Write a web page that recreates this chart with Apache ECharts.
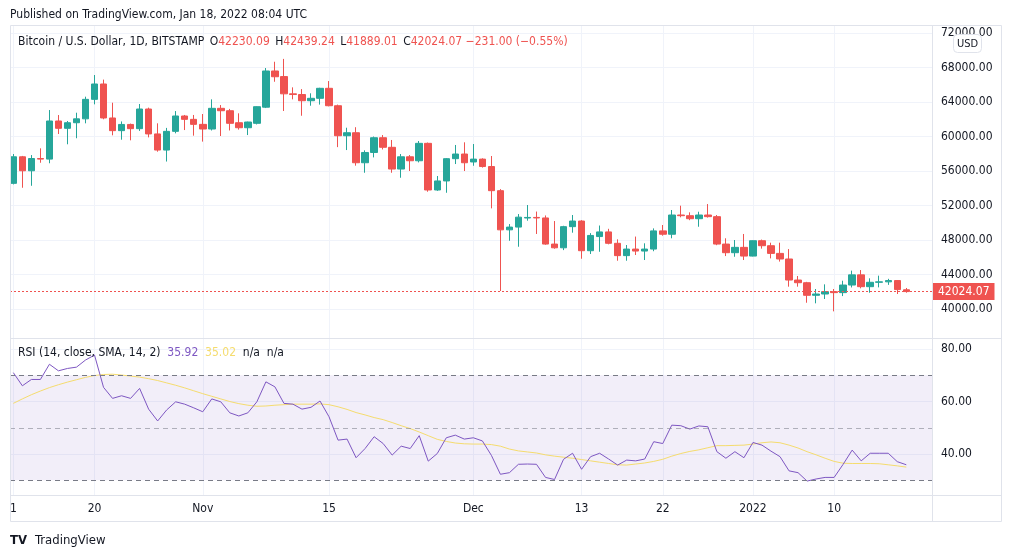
<!DOCTYPE html>
<html>
<head>
<meta charset="utf-8">
<script src="https://cdn.jsdelivr.net/npm/echarts@6/dist/echarts.min.js"></script>
<style>
  html, body { margin: 0; background: #fff; }
  #chart { width: 1012px; height: 558px; }
</style>
</head>
<body>
<div id="chart"></div>
<script>
// BTC/USD daily (Bitstamp), Oct 11 2021 – Jan 18 2022, with RSI(14) + SMA(14) of RSI.
// One entry per day, index 0 = Oct 11.
const opens = [
  54570, 57650, 56030, 57450, 57380, 61800, 60950, 61600, 62050, 64310,
  66090, 62150, 60680, 61400, 60910, 63190, 60300, 58430, 60600, 62380, 61990,
  61410, 60870, 63270, 62990, 61600, 61020, 61530, 63400, 67600, 66950,
  64950, 64870, 64150, 64430, 65590, 63570, 60090, 60440, 56960, 58150,
  59860, 58750, 56230, 57650, 57190, 59210, 53800, 54850, 57430, 57970,
  57050, 57380, 56520, 53720, 49180, 49500, 50550, 50620, 50560, 47530,
  47100, 49550, 50200, 46760, 48400, 48940, 47620, 46190, 46950, 46720,
  46950, 49060, 48670, 50900, 50820, 50470, 50900, 50710, 47530, 46530, 47150,
  46140, 47920, 47340, 46450, 45800, 43360, 43050, 41590, 41740, 42010,
  41900, 42780, 43960, 42590, 43100, 43150, 43300, 42230.09
];
const highs = [
  57970, 57750, 57850, 58630, 63070, 62490, 61800, 62760, 64620, 67130,
  66600, 63920, 61750, 61500, 63770, 63350, 61530, 61000, 62950, 62500, 62500,
  62610, 64310, 63650, 63200, 62690, 61720, 63500, 67940, 68670, 69000,
  65700, 65500, 65010, 65650, 66430, 63700, 61020, 61080, 58400, 60000,
  60170, 59600, 57970, 57850, 59480, 59300, 55420, 57500, 59020, 59330,
  59130, 57470, 57740, 53900, 49850, 51010, 52060, 51300, 50850, 50200,
  49650, 50900, 50300, 48800, 49680, 49300, 48080, 47420, 48400, 47620,
  49350, 49740, 51480, 51980, 51210, 51280, 52170, 50900, 48200, 48000, 48700,
  47950, 48050, 47690, 47690, 46950, 43830, 43150, 42320, 42860, 42320,
  43280, 44450, 44520, 43560, 43870, 43500, 43350, 42439.24
];
const lows = [
  54450, 54060, 54290, 56960, 56900, 60290, 59100, 59800, 61530, 63730,
  62000, 60140, 59630, 59560, 60650, 59900, 58240, 57100, 60370, 60750, 60100,
  59410, 60700, 60060, 60700, 60800, 60170, 61400, 63300, 66350, 62960,
  64310, 62410, 63570, 63700, 63500, 58770, 58430, 56620, 55800, 57580,
  58500, 55800, 55220, 56000, 57000, 53600, 53700, 53480, 56810, 56000,
  56610, 56400, 51670, 42090, 47910, 47220, 50240, 48700, 47450, 46990,
  46830, 48850, 45830, 46380, 46640, 47500, 45600, 45600, 46260, 45680,
  46700, 48500, 48200, 50630, 50300, 49540, 50600, 47400, 46140, 46060, 45680,
  46100, 47000, 45870, 45500, 42590, 42590, 40730, 40660, 41160, 39730,
  41500, 42500, 42400, 41890, 42510, 42800, 41740, 41889.01
];
const closes = [
  57650, 56030, 57450, 57380, 61800, 60950, 61600, 62050, 64310, 66090,
  62150, 60680, 61400, 60910, 63190, 60300, 58430, 60600, 62380, 61990, 61410,
  60870, 63270, 62990, 61530, 61020, 61680, 63460, 67600, 66930, 64950,
  64870, 64150, 64430, 65590, 63570, 60090, 60440, 56960, 58150, 59860,
  58750, 56230, 57650, 57190, 59210, 53800, 54850, 57430, 57970, 56960,
  57380, 56520, 53720, 49180, 49500, 50650, 50620, 50560, 47530, 47100,
  49550, 50200, 46760, 48530, 48940, 47620, 46190, 46950, 46720, 46950,
  49060, 48670, 50900, 50820, 50470, 50900, 50710, 47530, 46530, 47150, 46140,
  47920, 47340, 46450, 45800, 43360, 43050, 41590, 41740, 42010, 41900,
  42780, 43960, 42590, 43100, 43150, 43300, 42255.07, 42024.07
];
const rsi = [
  71.0, 66.0, 68.4, 68.4, 74.2, 71.7, 72.6, 73.1, 75.8, 77.7,
  65.4, 61.2, 62.2, 61.2, 65.0, 57.1, 52.6, 56.8, 59.9, 59.0, 57.6,
  56.1, 61.0, 59.9, 55.7, 54.5, 55.7, 59.9, 67.5, 65.6, 59.3,
  59.0, 57.1, 57.8, 60.2, 54.2, 45.3, 45.7, 38.6, 42.1, 46.6,
  44.0, 39.6, 43.0, 42.1, 47.0, 37.3, 40.2, 46.2, 47.2, 45.7,
  46.2, 45.0, 39.5, 32.3, 32.9, 36.1, 36.2, 36.1, 31.1, 30.3,
  38.0, 40.3, 34.2, 39.0, 40.3, 38.1, 35.8, 37.7, 37.4, 38.1,
  44.7, 44.0, 51.0, 50.8, 49.5, 50.7, 50.4, 40.9, 38.4, 40.9, 38.6,
  44.4, 43.4, 41.1, 39.0, 33.6, 32.9, 29.7, 30.5, 31.1, 31.1,
  36.1, 41.5, 37.4, 40.3, 40.3, 40.3, 37.1, 35.92
];
const rsiSma = [
  59.3, 61.0, 62.6, 64.0, 65.3, 66.4, 67.4, 68.3, 69.2, 69.9,
  70.3, 70.4, 70.1, 69.7, 69.3, 68.7, 68.0, 67.1, 66.2, 65.2, 64.1,
  63.0, 62.0, 61.0, 60.0, 59.2, 58.6, 58.2, 58.3, 58.6, 58.8,
  59.0, 59.0, 59.0, 59.1, 58.8, 58.0, 57.0, 55.8, 54.9, 53.9,
  53.1, 52.0, 50.8, 49.7, 48.4, 47.0, 45.6, 44.8, 44.2, 43.9,
  43.8, 43.8, 43.6, 43.0, 41.9, 41.2, 40.8, 40.4, 39.7, 39.2,
  38.8, 38.4, 37.9, 37.4, 36.9, 36.4, 35.9, 35.8, 36.2, 36.6,
  37.2, 38.0, 39.2, 40.2, 41.0, 41.6, 42.4, 43.2, 43.2, 43.3, 43.4,
  43.8, 44.3, 44.6, 44.3, 43.4, 42.3, 40.9, 39.7, 38.4, 37.2,
  36.5, 36.4, 36.4, 36.4, 36.3, 35.9, 35.5, 35.02
];

// axis ticks (day index -> label), price ticks, RSI ticks and bands
const timeTickDays = [0, 9, 21, 35, 51, 63, 72, 82, 91];
const timeTickLabels = ['1', '20', 'Nov', '15', 'Dec', '13', '22', '2022', '10'];
const priceTicks = [40000, 44000, 48000, 52000, 56000, 60000, 64000, 68000, 72000];
const rsiTicks = [40, 60, 80];
const rsiBands = [70, 50, 30];

const UP = '#26a69a';
const DOWN = '#ef5350';
const TEXT = '#131722';
const GRID = '#f0f3fa';
const FRAME = '#e0e3eb';
const FONT = "'DejaVu Sans Condensed', 'Liberation Sans Narrow', Roboto, sans-serif";

const last = closes.length - 1;
const candleData = closes.map((c, i) => [i, opens[i], c, lows[i], highs[i]]);
const rsiData = rsi.map((v, i) => [i, v]);
const smaData = rsiSma.map((v, i) => [i, v]);

const change = closes[last] - closes[last - 1];
const pct = change / closes[last - 1] * 100;
const sign = (v) => (v < 0 ? '\u2212' : '+') + Math.abs(v).toFixed(2);

const chart = echarts.init(document.getElementById('chart'));

const xCommon = {
  type: 'value', min: -0.37, max: 101.85,
  axisLine: { show: false },
  axisTick: { show: false, customValues: timeTickDays },
  splitLine: { show: true, lineStyle: { color: GRID } }
};

chart.setOption({
  animation: false,
  backgroundColor: '#fff',
  textStyle: { fontFamily: FONT },
  grid: [
    { left: 10, top: 25, width: 922, height: 313 },
    { left: 10, top: 338, width: 922, height: 157 }
  ],
  xAxis: [
    Object.assign({ gridIndex: 0, axisLabel: { show: false, customValues: timeTickDays } }, xCommon),
    Object.assign({
      gridIndex: 1,
      axisLabel: {
        customValues: timeTickDays, color: TEXT, fontSize: 12, fontFamily: FONT, margin: 8,
        formatter: (v) => timeTickLabels[timeTickDays.indexOf(v)]
      }
    }, xCommon)
  ],
  yAxis: [
    {
      type: 'value', gridIndex: 0, position: 'right', min: 36640, max: 72930, scale: true,
      axisLine: { show: false },
      axisTick: { show: false, customValues: priceTicks },
      axisLabel: { customValues: priceTicks, color: TEXT, fontSize: 12, fontFamily: FONT, margin: 9,
                   formatter: (v) => v.toFixed(2) },
      splitLine: { show: true, lineStyle: { color: GRID } }
    },
    {
      type: 'value', gridIndex: 1, position: 'right', min: 24.4, max: 84.2, scale: true,
      axisLine: { show: false },
      axisTick: { show: false, customValues: rsiTicks },
      axisLabel: { customValues: rsiTicks, color: TEXT, fontSize: 12, fontFamily: FONT, margin: 9,
                   formatter: (v) => v.toFixed(2) },
      splitLine: { show: true, lineStyle: { color: GRID } }
    }
  ],
  series: [
    {
      type: 'candlestick', xAxisIndex: 0, yAxisIndex: 0,
      data: candleData, encode: { x: 0, y: [1, 2, 3, 4] },
      barWidth: 7,
      itemStyle: { color: UP, color0: DOWN, borderColor: UP, borderColor0: DOWN, borderWidth: 1 },
      markLine: {
        silent: true, symbol: 'none', animation: false,
        lineStyle: { color: DOWN, type: [2, 2], width: 1 },
        label: {
          show: true, position: 'end', distance: 1,
          formatter: closes[last].toFixed(2),
          backgroundColor: DOWN, color: '#fff', fontSize: 12, fontFamily: FONT,
          padding: [3, 5, 2, 5]
        },
        data: [{ yAxis: closes[last] }]
      }
    },
    {
      type: 'line', xAxisIndex: 1, yAxisIndex: 1, data: rsiData,
      showSymbol: false, lineStyle: { color: '#7e57c2', width: 1 }, z: 3,
      markArea: {
        silent: true,
        itemStyle: { color: 'rgba(126,87,194,0.1)' },
        data: [[{ yAxis: rsiBands[2] }, { yAxis: rsiBands[0] }]]
      },
      markLine: {
        silent: true, symbol: 'none', animation: false,
        label: { show: false },
        data: rsiBands.map((v) => ({
          yAxis: v,
          lineStyle: { color: '#787b86', type: [5, 4], width: 1, opacity: v === 50 ? 0.55 : 1 }
        }))
      }
    },
    {
      type: 'line', xAxisIndex: 1, yAxisIndex: 1, data: smaData,
      showSymbol: false, lineStyle: { color: '#f5dc6e', width: 1 }, z: 2
    }
  ],
  graphic: [
    { type: 'rect', shape: { x: 10.5, y: 25.5, width: 991, height: 496 },
      style: { fill: 'none', stroke: FRAME, lineWidth: 1 }, z: 50 },
    { type: 'line', shape: { x1: 10, y1: 338.5, x2: 1002, y2: 338.5 }, style: { stroke: FRAME }, z: 50 },
    { type: 'line', shape: { x1: 10, y1: 495.5, x2: 1002, y2: 495.5 }, style: { stroke: FRAME }, z: 50 },
    { type: 'line', shape: { x1: 932.5, y1: 25, x2: 932.5, y2: 522 }, style: { stroke: FRAME }, z: 50 },
    { type: 'text', x: 10, y: 15, z: 50,
      style: { text: 'Published on TradingView.com, Jan 18, 2022 08:04 UTC', fill: TEXT,
               fontSize: 12, fontFamily: FONT, verticalAlign: 'middle' } },
    { type: 'text', x: 16, y: 42, z: 50,
      style: {
        verticalAlign: 'middle', fontSize: 12, fontFamily: FONT,
        text: '{k|Bitcoin / U.S. Dollar, 1D, BITSTAMP} {k|O}{v|' + opens[last].toFixed(2) + '} {k|H}{v|' +
              highs[last].toFixed(2) + '} {k|L}{v|' + lows[last].toFixed(2) + '} {k|C}{v|' +
              closes[last].toFixed(2) + '} {v|' + sign(change) + ' (' + sign(pct) + '%)}',
        rich: {
          k: { fill: TEXT, fontSize: 12, fontFamily: FONT, padding: [0, 0, 0, 2] },
          v: { fill: DOWN, fontSize: 12, fontFamily: FONT }
        }
      } },
    { type: 'text', x: 18, y: 353, z: 50,
      style: {
        verticalAlign: 'middle', fontSize: 12, fontFamily: FONT,
        text: '{k|RSI (14, close, SMA, 14, 2)}  {p|' + rsi[last].toFixed(2) + '}  {y|' +
              rsiSma[last].toFixed(2) + '}  {k|n/a}  {k|n/a}',
        rich: {
          k: { fill: TEXT, fontSize: 12, fontFamily: FONT },
          p: { fill: '#7e57c2', fontSize: 12, fontFamily: FONT },
          y: { fill: '#f5dc6e', fontSize: 12, fontFamily: FONT }
        }
      } },
    { type: 'rect', shape: { x: 953.5, y: 34.5, width: 28, height: 18, r: 4 },
      style: { fill: '#fff', stroke: FRAME }, z: 60 },
    { type: 'text', x: 967.5, y: 44, z: 61,
      style: { text: 'USD', fill: TEXT, fontSize: 11, fontFamily: FONT,
               align: 'center', verticalAlign: 'middle' } },
    { type: 'text', x: 10, y: 541, z: 50,
      style: { text: 'TV', fill: TEXT, fontSize: 13, fontWeight: 900, fontFamily: FONT,
               verticalAlign: 'middle' } },
    { type: 'text', x: 35, y: 541, z: 50,
      style: { text: 'TradingView', fill: TEXT, fontSize: 13, fontFamily: FONT,
               verticalAlign: 'middle' } }
  ]
});
</script>
</body>
</html>
